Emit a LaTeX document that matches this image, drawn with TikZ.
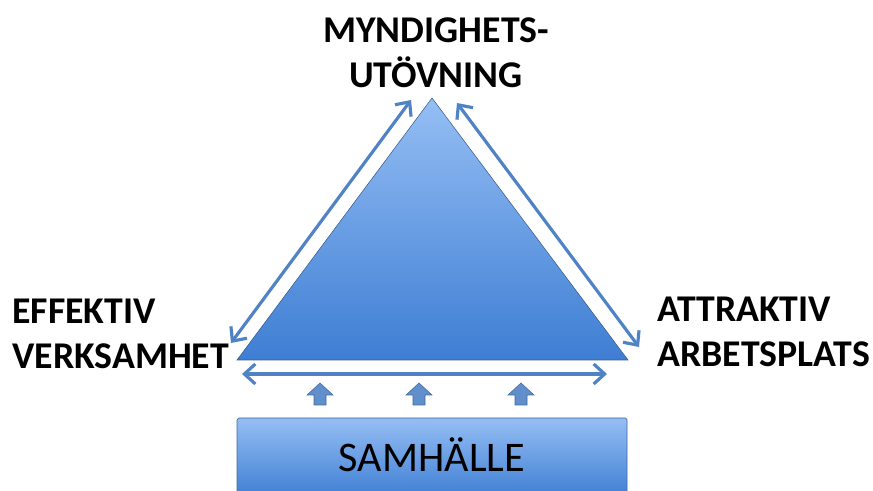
\documentclass[tikz,border=0pt]{standalone}
\usepackage{fontspec}
\setmainfont{Carlito}
\usetikzlibrary{arrows.meta,calc}
\definecolor{topblue}{HTML}{95BEF4}
\definecolor{botblue}{HTML}{3E7ED3}
\definecolor{linkblue}{HTML}{4F83C6}
\tikzset{%
  >={Straight Barb[width=4mm,length=2.2mm]},
  % Specifications for style of nodes:
         corner/.style = {font=\bfseries\fontsize{21.5}{25.5}\selectfont,
                          inner sep=0pt},
           link/.style = {<->, draw=linkblue, line width=1.8pt},
        society/.style = {rectangle, rounded corners=1pt, draw=linkblue!80!black,
                          top color=topblue, bottom color=botblue,
                          font=\fontsize{24}{28}\selectfont},
         uparrow/.style = {fill=linkblue!90!white, draw=linkblue!80!black, line width=0.3pt},
}

\begin{document}
\begin{tikzpicture}
  \useasboundingbox (0,0) rectangle (17.46,9.82);
  % Corners of the triangle
  \coordinate (top) at (8.64,7.86);
  \coordinate (bl)  at (4.74,2.62);
  \coordinate (br)  at (12.56,2.62);
  \shade[top color=topblue, bottom color=botblue] (top) -- (bl) -- (br) -- cycle;
  \draw[linkblue!70!black, line width=0.3pt] (top) -- (bl) -- (br) -- cycle;
  % Labels
  \node (myn) [corner, align=center] at (8.72,8.76) {MYNDIGHETS-\\UTÖVNING};
  \node (eff) [corner, align=left, anchor=west] at (0.24,3.14) {EFFEKTIV\\VERKSAMHET};
  \node (att) [corner, align=left, anchor=west] at (13.14,3.18) {ATTRAKTIV\\ARBETSPLATS};
  % End points of the arrows
  \coordinate (l1) at (4.62,2.96);
  \coordinate (l2) at (8.22,7.82);
  \coordinate (r1) at (9.14,7.76);
  \coordinate (r2) at (12.78,2.88);
  \coordinate (b1) at (4.84,2.34);
  \coordinate (b2) at (12.14,2.34);
  \draw[link] (l1) -- (l2);
  \draw[link] (r1) -- (r2);
  \draw[link] (b1) -- (b2);
  % Small block arrows
  \foreach \x in {6.40,8.38,10.42}
    \draw[uparrow] (\x-0.12,1.72) -- (\x-0.12,1.92) -- (\x-0.26,1.92) -- (\x,2.16)
      -- (\x+0.26,1.92) -- (\x+0.12,1.92) -- (\x+0.12,1.72) -- cycle;
  % Society box
  \node (samh) [society, minimum width=7.8cm, minimum height=1.6cm] at (8.64,0.66) {};
  \node at (8.64,0.72) [font=\fontsize{24}{28}\selectfont] {SAMHÄLLE};
\end{tikzpicture}
\end{document}
